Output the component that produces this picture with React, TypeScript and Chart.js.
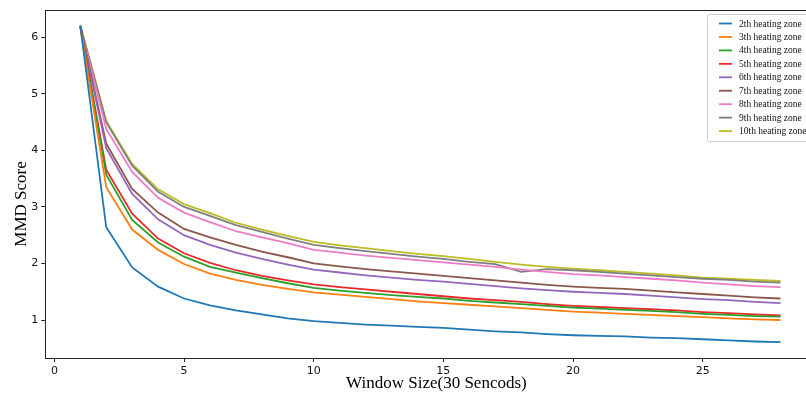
import React, { useEffect, useRef } from 'react';
import { Chart, registerables } from 'chart.js';

Chart.register(...registerables);

const windowSizes = [1, 2, 3, 4, 5, 6, 7, 8, 9, 10, 11, 12, 13, 14, 15, 16, 17, 18, 19, 20, 21, 22, 23, 24, 25, 26, 27, 28];

const zoneLabels = [
  '2th heating zone', '3th heating zone', '4th heating zone', '5th heating zone', '6th heating zone',
  '7th heating zone', '8th heating zone', '9th heating zone', '10th heating zone',
];

const zone2 = [6.20, 2.64, 1.93, 1.59, 1.38, 1.26, 1.17, 1.10, 1.03, 0.98, 0.95, 0.92, 0.90, 0.88, 0.86, 0.83, 0.80, 0.78, 0.75, 0.73, 0.72, 0.71, 0.69, 0.68, 0.66, 0.64, 0.62, 0.61];
const zone3 = [6.18, 3.35, 2.60, 2.24, 1.99, 1.82, 1.71, 1.62, 1.55, 1.49, 1.45, 1.41, 1.37, 1.33, 1.30, 1.27, 1.24, 1.21, 1.18, 1.15, 1.13, 1.11, 1.09, 1.07, 1.05, 1.03, 1.01, 1.00];
const zone4 = [6.19, 3.57, 2.77, 2.37, 2.12, 1.94, 1.84, 1.74, 1.65, 1.57, 1.52, 1.48, 1.44, 1.41, 1.38, 1.34, 1.31, 1.28, 1.25, 1.22, 1.20, 1.18, 1.16, 1.14, 1.11, 1.09, 1.07, 1.06];
const zone5 = [6.20, 3.66, 2.88, 2.44, 2.18, 2.01, 1.88, 1.78, 1.70, 1.63, 1.58, 1.54, 1.50, 1.46, 1.42, 1.38, 1.35, 1.32, 1.28, 1.25, 1.23, 1.21, 1.19, 1.17, 1.14, 1.12, 1.10, 1.08];
const zone6 = [6.20, 4.04, 3.23, 2.78, 2.50, 2.33, 2.19, 2.08, 1.98, 1.89, 1.84, 1.79, 1.75, 1.71, 1.68, 1.64, 1.60, 1.56, 1.53, 1.50, 1.48, 1.46, 1.43, 1.40, 1.37, 1.35, 1.32, 1.30];
const zone7 = [6.20, 4.12, 3.32, 2.90, 2.61, 2.46, 2.33, 2.21, 2.11, 2.00, 1.95, 1.90, 1.86, 1.82, 1.78, 1.74, 1.70, 1.66, 1.62, 1.59, 1.57, 1.55, 1.52, 1.49, 1.46, 1.43, 1.40, 1.38];
const zone8 = [6.20, 4.38, 3.62, 3.16, 2.90, 2.73, 2.57, 2.46, 2.36, 2.24, 2.19, 2.14, 2.10, 2.06, 2.02, 1.98, 1.94, 1.89, 1.85, 1.81, 1.79, 1.76, 1.73, 1.70, 1.66, 1.63, 1.60, 1.58];
const zone9 = [6.21, 4.50, 3.73, 3.27, 3.00, 2.84, 2.68, 2.56, 2.44, 2.33, 2.27, 2.22, 2.17, 2.12, 2.08, 2.03, 1.99, 1.85, 1.90, 1.88, 1.85, 1.82, 1.79, 1.76, 1.73, 1.71, 1.68, 1.66];
const zone10 = [6.22, 4.52, 3.76, 3.31, 3.05, 2.89, 2.72, 2.60, 2.49, 2.38, 2.32, 2.27, 2.22, 2.17, 2.13, 2.08, 2.03, 1.98, 1.94, 1.91, 1.88, 1.85, 1.82, 1.79, 1.75, 1.73, 1.71, 1.69];

const zoneSeries = [zone2, zone3, zone4, zone5, zone6, zone7, zone8, zone9, zone10];
const zoneColors = ['#1f77b4', '#ff7f0e', '#2ca02c', '#e82a2a', '#9467bd', '#8c564b', '#ee7ac8', '#7f7f7f', '#bcbd22'];

const xTickValues = [0, 5, 10, 15, 20, 25];
const yTickValues = [1, 2, 3, 4, 5, 6];

const xTitle = 'Window Size(30 Sencods)';
const yTitle = 'MMD Score';

const framePlugin = {
  id: 'frameAndLegend',
  afterDraw(chart: any) {
    const ctx = chart.ctx;
    const a = chart.chartArea;
    ctx.save();
    ctx.strokeStyle = '#262626';
    ctx.lineWidth = 1;
    ctx.strokeRect(Math.round(a.left) + 0.5, Math.round(a.top) + 0.5, Math.round(a.right - a.left), Math.round(a.bottom - a.top));

    ctx.fillStyle = '#000';
    ctx.font = '17px "Liberation Serif", "Times New Roman", serif';
    ctx.textAlign = 'center';
    ctx.textBaseline = 'middle';
    ctx.fillText(xTitle, (a.left + a.right) / 2 + 6, 384);
    ctx.translate(22, 204);
    ctx.rotate(-Math.PI / 2);
    ctx.fillText(yTitle, 0, 0);
    ctx.restore();

    ctx.save();
    const bx = 707.5, by = 14.5, bw = 106, bh = 127, r = 2;
    ctx.beginPath();
    ctx.moveTo(bx + r, by);
    ctx.lineTo(bx + bw - r, by);
    ctx.quadraticCurveTo(bx + bw, by, bx + bw, by + r);
    ctx.lineTo(bx + bw, by + bh - r);
    ctx.quadraticCurveTo(bx + bw, by + bh, bx + bw - r, by + bh);
    ctx.lineTo(bx + r, by + bh);
    ctx.quadraticCurveTo(bx, by + bh, bx, by + bh - r);
    ctx.lineTo(bx, by + r);
    ctx.quadraticCurveTo(bx, by, bx + r, by);
    ctx.closePath();
    ctx.fillStyle = 'rgba(255,255,255,0.8)';
    ctx.fill();
    ctx.strokeStyle = '#cccccc';
    ctx.lineWidth = 1;
    ctx.stroke();
    ctx.font = '9.5px "Liberation Serif", "Times New Roman", serif';
    ctx.textAlign = 'left';
    ctx.textBaseline = 'middle';
    chart.data.datasets.forEach((ds: any, i: number) => {
      const y = 23.5 + i * 13.45;
      ctx.strokeStyle = ds.borderColor;
      ctx.lineWidth = 1.8;
      ctx.beginPath();
      ctx.moveTo(719, y);
      ctx.lineTo(732, y);
      ctx.stroke();
      ctx.fillStyle = '#111';
      ctx.fillText(ds.label, 739, y + 0.5);
    });
    ctx.restore();
  },
};

export default function App() {
  const canvasRef = useRef<HTMLCanvasElement | null>(null);

  useEffect(() => {
    const canvas = canvasRef.current;
    if (!canvas) return;
    const tickFont = { family: '"DejaVu Sans", sans-serif', size: 11 };
    const chart = new Chart(canvas, {
      type: 'line',
      data: {
        labels: windowSizes,
        datasets: zoneSeries.map((s, i) => ({
          label: zoneLabels[i],
          data: s.map((v, j) => ({ x: windowSizes[j], y: v })),
          borderColor: zoneColors[i],
          backgroundColor: zoneColors[i],
          borderWidth: 1.8,
          pointRadius: 0,
          tension: 0,
          fill: false,
        })),
      },
      options: {
        animation: false,
        responsive: false,
        devicePixelRatio: 1,
        layout: { padding: { top: 10, right: 4.5, left: 0, bottom: 0 } },
        plugins: { legend: { display: false }, tooltip: { enabled: false } },
        scales: {
          x: {
            type: 'linear',
            min: -0.35,
            max: 29.35,
            afterBuildTicks: (scale: any) => {
              scale.ticks = xTickValues.map((v) => ({ value: v }));
            },
            afterFit: (scale: any) => {
              scale.height = 36;
            },
            grid: { display: true, drawOnChartArea: false, drawTicks: true, tickLength: 4, color: '#262626', lineWidth: 1 },
            border: { display: false },
            ticks: { font: tickFont, color: '#111', padding: 3, maxRotation: 0, autoSkip: false },
            title: { display: false },
          },
          y: {
            type: 'linear',
            min: 0.328,
            max: 6.483,
            afterBuildTicks: (scale: any) => {
              scale.ticks = yTickValues.map((v) => ({ value: v }));
            },
            afterFit: (scale: any) => {
              scale.width = 45.3;
            },
            grid: { display: true, drawOnChartArea: false, drawTicks: true, tickLength: 4, color: '#262626', lineWidth: 1 },
            border: { display: false },
            ticks: { font: tickFont, color: '#111', padding: 3, autoSkip: false },
            title: { display: false },
          },
        },
      },
      plugins: [framePlugin],
    });
    return () => chart.destroy();
  }, []);

  return (
    <div style={{ position: 'absolute', left: 0, top: 0, width: 806, height: 394, overflow: 'hidden', background: '#fff' }}>
      <canvas ref={canvasRef} width={820} height={394} style={{ display: 'block', width: 820, height: 394 }} />
    </div>
  );
}
